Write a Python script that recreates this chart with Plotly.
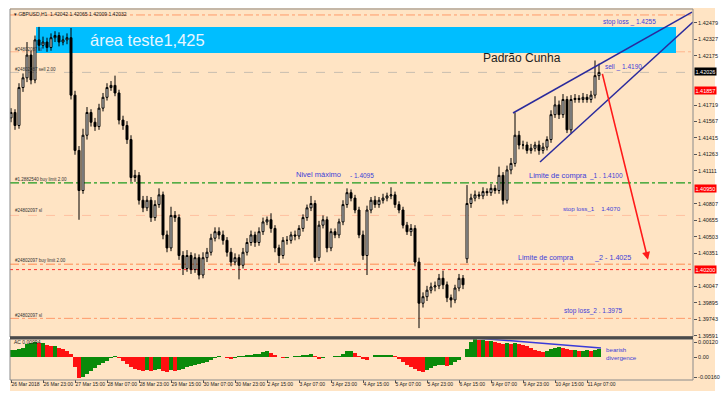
import plotly.graph_objects as go

# ---------------- data ----------------
opens = [
    1.4160, 1.4165, 1.4153, 1.4188, 1.4197, 1.4218, 1.4195, 1.4232, 1.4227, 1.4230,
    1.4225, 1.4234, 1.4236, 1.4230, 1.4232, 1.4234, 1.4181, 1.4130, 1.4093, 1.4144,
    1.4165, 1.4156, 1.4152, 1.4169, 1.4179, 1.4188, 1.4190, 1.4183, 1.4158, 1.4153,
    1.4140, 1.4105, 1.4107, 1.4084, 1.4077, 1.4084, 1.4068, 1.4080, 1.4089, 1.4052,
    1.4040, 1.4070, 1.4068, 1.4033, 1.4021, 1.4033, 1.4020, 1.4031, 1.4015, 1.4031,
    1.4036, 1.4049, 1.4055, 1.4052, 1.4047, 1.4036, 1.4027, 1.4031, 1.4024, 1.4036,
    1.4045, 1.4052, 1.4045, 1.4055, 1.4064, 1.4066, 1.4058, 1.4040, 1.4033, 1.4047,
    1.4047, 1.4052, 1.4051, 1.4058, 1.4068, 1.4077, 1.4081, 1.4031, 1.4061, 1.4066,
    1.4040, 1.4055, 1.4052, 1.4064, 1.4080, 1.4091, 1.4086, 1.4075, 1.4052, 1.4033,
    1.4075, 1.4084, 1.4080, 1.4084, 1.4086, 1.4088, 1.4089, 1.4080, 1.4075, 1.4061,
    1.4055, 1.4058, 1.4027, 1.3989, 1.3995, 1.4001, 1.4004, 1.4005, 1.4012, 1.4006,
    1.3994, 1.3992, 1.4003, 1.4012, 1.4030, 1.4081, 1.4086, 1.4089, 1.4088, 1.4092,
    1.4091, 1.4095, 1.4093, 1.4107, 1.4084, 1.4112, 1.4118, 1.4144, 1.4135, 1.4135,
    1.4130, 1.4132, 1.4135, 1.4130, 1.4133, 1.4140, 1.4163, 1.4172, 1.4163, 1.4177,
    1.4149, 1.4177, 1.4178, 1.4177, 1.4179, 1.4177, 1.4181, 1.4199,
]
highs = [
    1.4169, 1.4168, 1.4192, 1.4201, 1.4230, 1.4222, 1.4236, 1.4244, 1.4235, 1.4234,
    1.4238, 1.4240, 1.4239, 1.4236, 1.4238, 1.4243, 1.4185, 1.4134, 1.4150, 1.4170,
    1.4168, 1.4160, 1.4173, 1.4183, 1.4192, 1.4194, 1.4199, 1.4186, 1.4162, 1.4157,
    1.4144, 1.4112, 1.4110, 1.4088, 1.4088, 1.4087, 1.4084, 1.4095, 1.4092, 1.4056,
    1.4078, 1.4074, 1.4071, 1.4037, 1.4038, 1.4036, 1.4035, 1.4034, 1.4036, 1.4040,
    1.4053, 1.4059, 1.4059, 1.4056, 1.4050, 1.4040, 1.4035, 1.4034, 1.4040, 1.4049,
    1.4056, 1.4055, 1.4059, 1.4068, 1.4069, 1.4072, 1.4061, 1.4043, 1.4050, 1.4051,
    1.4055, 1.4056, 1.4061, 1.4071, 1.4080, 1.4088, 1.4084, 1.4065, 1.4070, 1.4069,
    1.4058, 1.4058, 1.4067, 1.4084, 1.4095, 1.4094, 1.4089, 1.4078, 1.4056, 1.4079,
    1.4087, 1.4088, 1.4087, 1.4090, 1.4091, 1.4096, 1.4092, 1.4083, 1.4078, 1.4064,
    1.4062, 1.4061, 1.4031, 1.3999, 1.4005, 1.4008, 1.4009, 1.4016, 1.4019, 1.4009,
    1.3997, 1.4006, 1.4016, 1.4015, 1.4098, 1.4090, 1.4093, 1.4092, 1.4096, 1.4095,
    1.4099, 1.4098, 1.4115, 1.4110, 1.4116, 1.4123, 1.4165, 1.4148, 1.4139, 1.4138,
    1.4136, 1.4138, 1.4139, 1.4137, 1.4143, 1.4167, 1.4180, 1.4176, 1.4182, 1.4180,
    1.4181, 1.4182, 1.4181, 1.4183, 1.4182, 1.4185, 1.4213, 1.4210,
]
lows = [
    1.4156, 1.4149, 1.4150, 1.4184, 1.4193, 1.4191, 1.4192, 1.4222, 1.4224, 1.4221,
    1.4222, 1.4230, 1.4226, 1.4227, 1.4228, 1.4177, 1.4126, 1.4066, 1.4090, 1.4140,
    1.4152, 1.4148, 1.4149, 1.4166, 1.4176, 1.4185, 1.4180, 1.4154, 1.4149, 1.4136,
    1.4101, 1.4101, 1.4080, 1.4073, 1.4074, 1.4064, 1.4065, 1.4077, 1.4048, 1.4036,
    1.4037, 1.4064, 1.4029, 1.4015, 1.4018, 1.4016, 1.4017, 1.4011, 1.4012, 1.4027,
    1.4033, 1.4046, 1.4048, 1.4043, 1.4032, 1.4023, 1.4024, 1.4011, 1.4021, 1.4033,
    1.4042, 1.4041, 1.4042, 1.4052, 1.4061, 1.4054, 1.4036, 1.4026, 1.4030, 1.4043,
    1.4044, 1.4047, 1.4048, 1.4055, 1.4065, 1.4074, 1.4027, 1.4028, 1.4058, 1.4036,
    1.4037, 1.4049, 1.4049, 1.4061, 1.4077, 1.4083, 1.4072, 1.4049, 1.4029, 1.4015,
    1.4072, 1.4077, 1.4077, 1.4081, 1.4083, 1.4085, 1.4077, 1.4072, 1.4058, 1.4052,
    1.4051, 1.4023, 1.3966, 1.3985, 1.3991, 1.3998, 1.4000, 1.4002, 1.4002, 1.3990,
    1.3985, 1.3989, 1.4000, 1.4002, 1.4026, 1.4077, 1.4083, 1.4085, 1.4085, 1.4088,
    1.4088, 1.4090, 1.4090, 1.4080, 1.4081, 1.4108, 1.4115, 1.4131, 1.4131, 1.4127,
    1.4127, 1.4129, 1.4126, 1.4127, 1.4130, 1.4137, 1.4160, 1.4159, 1.4160, 1.4146,
    1.4146, 1.4174, 1.4174, 1.4174, 1.4174, 1.4174, 1.4178, 1.4195,
]
closes = [
    1.4165, 1.4153, 1.4188, 1.4197, 1.4218, 1.4195, 1.4232, 1.4227, 1.4230, 1.4225,
    1.4234, 1.4236, 1.4230, 1.4232, 1.4234, 1.4181, 1.4130, 1.4093, 1.4144, 1.4165,
    1.4156, 1.4152, 1.4169, 1.4179, 1.4188, 1.4190, 1.4183, 1.4158, 1.4153, 1.4140,
    1.4105, 1.4107, 1.4084, 1.4077, 1.4084, 1.4068, 1.4080, 1.4089, 1.4052, 1.4040,
    1.4070, 1.4068, 1.4033, 1.4021, 1.4033, 1.4020, 1.4031, 1.4015, 1.4031, 1.4036,
    1.4049, 1.4055, 1.4052, 1.4047, 1.4036, 1.4027, 1.4031, 1.4024, 1.4036, 1.4045,
    1.4052, 1.4045, 1.4055, 1.4064, 1.4066, 1.4058, 1.4040, 1.4033, 1.4047, 1.4047,
    1.4052, 1.4051, 1.4058, 1.4068, 1.4077, 1.4081, 1.4031, 1.4061, 1.4066, 1.4040,
    1.4055, 1.4052, 1.4064, 1.4080, 1.4091, 1.4086, 1.4075, 1.4052, 1.4033, 1.4075,
    1.4084, 1.4080, 1.4084, 1.4086, 1.4088, 1.4089, 1.4080, 1.4075, 1.4061, 1.4055,
    1.4058, 1.4027, 1.3989, 1.3995, 1.4001, 1.4004, 1.4005, 1.4012, 1.4006, 1.3994,
    1.3992, 1.4003, 1.4012, 1.4006, 1.4081, 1.4086, 1.4089, 1.4088, 1.4092, 1.4091,
    1.4095, 1.4093, 1.4107, 1.4084, 1.4112, 1.4118, 1.4144, 1.4135, 1.4135, 1.4130,
    1.4132, 1.4135, 1.4130, 1.4133, 1.4140, 1.4163, 1.4172, 1.4163, 1.4177, 1.4149,
    1.4177, 1.4178, 1.4177, 1.4179, 1.4177, 1.4181, 1.4199, 1.4202,
]
ac_values = [
    0.00056, 0.00056, 0.00064, 0.00072, 0.00104, 0.00112, 0.00120, 0.00112, 0.00112, 0.00096,
    0.00088, 0.00088, 0.00072, 0.00064, 0.00048, 0.00024, -0.00080, -0.00168, -0.00160, -0.00136,
    -0.00112, -0.00088, -0.00064, -0.00048, -0.00032, -0.00008, 0.00008, -0.00008, -0.00032, -0.00056,
    -0.00080, -0.00096, -0.00104, -0.00112, -0.00104, -0.00112, -0.00104, -0.00096, -0.00112, -0.00120,
    -0.00104, -0.00112, -0.00104, -0.00096, -0.00080, -0.00072, -0.00064, -0.00056, -0.00048, -0.00040,
    -0.00024, -0.00008, 0.00008, 0.00000, -0.00008, -0.00016, -0.00008, 0.00008, 0.00008, 0.00016,
    0.00016, 0.00024, 0.00024, 0.00040, 0.00048, 0.00032, 0.00016, 0.00000, -0.00008, -0.00008,
    0.00000, 0.00008, 0.00008, 0.00016, 0.00016, 0.00024, 0.00008, -0.00016, -0.00008, 0.00000,
    0.00000, 0.00008, 0.00008, 0.00024, 0.00048, 0.00048, 0.00032, 0.00008, -0.00016, -0.00024,
    0.00000, 0.00016, 0.00016, 0.00016, 0.00016, 0.00016, 0.00008, -0.00016, -0.00040, -0.00064,
    -0.00080, -0.00096, -0.00112, -0.00120, -0.00104, -0.00088, -0.00072, -0.00064, -0.00064, -0.00072,
    -0.00064, -0.00040, -0.00024, 0.00000, 0.00064, 0.00120, 0.00144, 0.00136, 0.00136, 0.00128,
    0.00128, 0.00120, 0.00112, 0.00104, 0.00112, 0.00104, 0.00112, 0.00104, 0.00096, 0.00088,
    0.00072, 0.00056, 0.00048, 0.00040, 0.00048, 0.00064, 0.00072, 0.00080, 0.00072, 0.00064,
    0.00056, 0.00056, 0.00048, 0.00048, 0.00056, 0.00048, 0.00056, 0.00064,
]
x_tick_labels = [
    "26 Mar 2018", "26 Mar 23:00", "27 Mar 15:00", "28 Mar 07:00", "28 Mar 23:00",
    "29 Mar 15:00", "30 Mar 07:00", "30 Mar 23:00", "2 Apr 15:00", "3 Apr 07:00",
    "3 Apr 23:00", "4 Apr 15:00", "5 Apr 07:00", "5 Apr 23:00", "6 Apr 15:00",
    "9 Apr 07:00", "9 Apr 23:00", "10 Apr 15:00", "11 Apr 07:00",
]
# horizontal levels (price)
level_top_sl = 1.4255
level_area_low = 1.4221
level_sell = 1.4202
level_buy1 = 1.4100
level_sl1 = 1.4070
level_buy2 = 1.4025
level_red = 1.4020
level_sl2 = 1.3975
# test area (hours, price)
area_hours = [12.5, 332.5]
area_prices = [1.4220, 1.4244]
# wedge lines ((hour, price), (hour, price))
wedge_upper = [(251, 1.41645), (340.5, 1.42577)]
wedge_lower = [(264.5, 1.41193), (341, 1.42485)]
# red forecast arrow (tail, head)
arrow_tail = (295.5, 1.4202)
arrow_head = (318.5, 1.4029)
# divergence line on AC
div_line = [(232, 0.00152), (295, 0.00072)]
# right-axis marked prices
marked_prices = [1.42026, 1.41857, 1.40950, 1.40200]
marked_colors = ["#000000", "#ff0000", "#ff0000", "#ff0000"]
# price axis grid
price_tick0 = 1.39591
price_tick_step = 0.00152

# ---------------- layout helpers ----------------
W, H = 724, 400
ML, MR, MT, MB = 10, 31, 9, 20
PW = W - ML - MR
PH = H - MT - MB
FONT = "Liberation Sans, Arial, sans-serif"
BG = "#FFE4C4"
BLUE_TXT = "#4040d8"


def pxx(x):
    return (x - ML) / PW


def pxy(y):
    return (H - MB - y) / PH


n = len(closes)
bar_hours = list(range(0, 2 * n, 2))
tick_hours = [16 * i for i in range(len(x_tick_labels))]
ac_colors = ["#0a8a0a" if i == 0 or v >= ac_values[i - 1] else "#ff1010"
             for i, v in enumerate(ac_values)]
# price ticks, skipping the ones hidden under the marked price boxes
price_ticks = []
for i in range(21):
    t = price_tick0 + i * price_tick_step
    if all(abs(t - m) > 0.0009 for m in marked_prices):
        price_ticks.append(round(t, 5))

fig = go.Figure()
fig.add_trace(go.Candlestick(
    x=bar_hours, open=opens, high=highs, low=lows, close=closes,
    increasing=dict(line=dict(color="#000000", width=1), fillcolor="#ffffff"),
    decreasing=dict(line=dict(color="#000000", width=1), fillcolor="#000000"),
    whiskerwidth=0, hoverinfo="skip", showlegend=False, xaxis="x", yaxis="y",
))
fig.add_trace(go.Bar(
    x=bar_hours, y=ac_values, marker=dict(color=ac_colors, line=dict(width=0)),
    width=1.6, hoverinfo="skip", showlegend=False, xaxis="x", yaxis="y2",
))

shapes = []
# peach chart background
shapes.append(dict(type="rect", xref="paper", yref="paper", x0=pxx(10), x1=pxx(715),
                   y0=pxy(391), y1=pxy(8), fillcolor=BG, line=dict(width=0), layer="below"))
# test area rectangle
shapes.append(dict(type="rect", xref="x", yref="y", x0=area_hours[0], x1=area_hours[1],
                   y0=area_prices[0], y1=area_prices[1], fillcolor="#00BEFF",
                   line=dict(width=0), layer="below"))


def hline(level, color, dash, width=1):
    shapes.append(dict(type="line", xref="paper", yref="y", x0=0, x1=1, y0=level, y1=level,
                       line=dict(color=color, dash=dash, width=width), layer="below"))


hline(level_top_sl, "#ff9a6a", "dashdot")
hline(level_area_low, "#ffb48c", "dashdot")
hline(level_sell, "#c8beb0", "dash")
hline(level_buy1, "#1e9a1e", "dashdot", 1.2)
hline(level_sl1, "#ffc0a0", "dash")
hline(level_buy2, "#ff8a50", "dashdot")
hline(level_red, "#ff3030", "dot")
hline(level_sl2, "#ff9a6a", "dashdot")

# wedge lines
for (p0, p1) in (wedge_upper, wedge_lower):
    shapes.append(dict(type="line", xref="x", yref="y", x0=p0[0], y0=p0[1], x1=p1[0], y1=p1[1],
                       line=dict(color="#2a2a9c", width=1.5)))
# divergence line
shapes.append(dict(type="line", xref="x", yref="y2", x0=div_line[0][0], y0=div_line[0][1],
                   x1=div_line[1][0], y1=div_line[1][1], line=dict(color="#3a3ad8", width=1.5)))
# frames
shapes.append(dict(type="rect", xref="paper", yref="paper", x0=pxx(10), x1=pxx(693),
                   y0=pxy(337), y1=pxy(9), line=dict(color="#8a8a8a", width=1)))
shapes.append(dict(type="rect", xref="paper", yref="paper", x0=pxx(10), x1=pxx(693),
                   y0=pxy(380), y1=pxy(339), line=dict(color="#8a8a8a", width=1)))
shapes.append(dict(type="rect", xref="paper", yref="paper", x0=pxx(10), x1=pxx(693),
                   y0=pxy(339.3), y1=pxy(336.3), fillcolor="#4a4a4a", line=dict(width=0)))

annotations = []


def label(text, x, y, size, color=BLUE_TXT, anchor="left"):
    annotations.append(dict(text=text, x=pxx(x), y=pxy(y), xref="paper", yref="paper",
                            xanchor=anchor, yanchor="middle", showarrow=False,
                            font=dict(size=size, color=color, family=FONT)))


label("área teste1,425", 88, 40.5, 16.5, "#e8f6ff")
label("Padrão Cunha", 481, 58, 12, "#1e1e1e")
label("stop loss _ 1.4255", 601, 22, 6.5)
label("sell _ 1.4190", 603, 67, 6.5)
label("Nivel máximo", 294, 174, 7.5)
label("- 1.4095", 348, 175, 6.5)
label("Limite de compra", 527, 175, 7.5)
label("_1 . 1.4100", 587, 176, 6.5)
label("stop loss_1    1.4070", 561, 208, 6.2)
label("Limite de compra", 516, 257, 7.2)
label("_2 - 1.4025", 592, 257, 7.2)
label("stop loss_2 . 1.3975", 562, 311, 6.5)
label("bearish", 604, 349, 6.2)
label("divergence", 604, 357.5, 6.2)
# chart header and tiny object labels
label("▾ GBPUSD,H1  1.42042 1.42065 1.42009 1.42032", 12, 14, 5, "#222222")
label("AC 0.00094", 12, 342, 5, "#222222")
label("#24802087 sl", 13, 49, 4.5, "#333333")
label("#24802087 sell 2.00", 13, 69, 4.5, "#333333")
label("#1.2882540 buy limit 2.00", 13, 179, 4.5, "#333333")
label("#24802097 sl", 13, 210, 4.5, "#333333")
label("#24802097 buy limit 2.00", 13, 260, 4.5, "#333333")
label("#24802097 sl", 13, 315, 4.5, "#333333")

# right axis marked price boxes
for p, c in zip(marked_prices, marked_colors):
    annotations.append(dict(text=f"{p:.5f}", x=pxx(694), y=p, xref="paper", yref="y",
                            xanchor="left", yanchor="middle", showarrow=False,
                            bgcolor=c, borderpad=0.5,
                            font=dict(size=5.5, color="#ffffff", family=FONT)))

# red arrow
annotations.append(dict(text="", x=arrow_head[0], y=arrow_head[1], xref="x", yref="y",
                        ax=arrow_tail[0], ay=arrow_tail[1], axref="x", ayref="y",
                        showarrow=True, arrowhead=2, arrowsize=1, arrowwidth=1.6,
                        arrowcolor="#ff1a1a"))

fig.update_layout(
    width=W, height=H,
    margin=dict(l=ML, r=MR, t=MT, b=MB, pad=0, autoexpand=False),
    paper_bgcolor="#ffffff", plot_bgcolor=BG,
    showlegend=False, bargap=0,
    shapes=shapes, annotations=annotations,
    xaxis=dict(anchor="y2", range=[-0.5, 341], tickvals=tick_hours, ticktext=x_tick_labels,
               tickangle=0, automargin=False,
               ticks="outside", ticklen=3, tickcolor="#555555", ticklabelposition="outside right",
               tickfont=dict(size=5, color="#222222", family=FONT),
               showgrid=False, zeroline=False, showline=False,
               rangeslider=dict(visible=False), fixedrange=True),
    yaxis=dict(domain=[pxy(337), pxy(9)], range=[1.39578, 1.42605], side="right", anchor="x",
               tickvals=price_ticks, tickformat=".5f", automargin=False,
               ticks="outside", ticklen=3, tickcolor="#555555",
               tickfont=dict(size=5.5, color="#222222", family=FONT),
               showgrid=False, zeroline=False, showline=False),
    yaxis2=dict(domain=[pxy(379), pxy(339)], range=[-0.00176, 0.00144], side="right", anchor="x",
                tickvals=[0.0012, 0.0, -0.0016], ticktext=["0.00120", "0.00", "-0.00160"],
                automargin=False,
                ticks="outside", ticklen=3, tickcolor="#555555",
                tickfont=dict(size=5.5, color="#222222", family=FONT),
                showgrid=False, zeroline=False, showline=False),
)

fig.write_html(
    "out.html",
    config={"displayModeBar": False},
    post_script="document.body.style.margin='0px';document.body.style.padding='0px';"
                "document.body.style.overflow='hidden';",
)
